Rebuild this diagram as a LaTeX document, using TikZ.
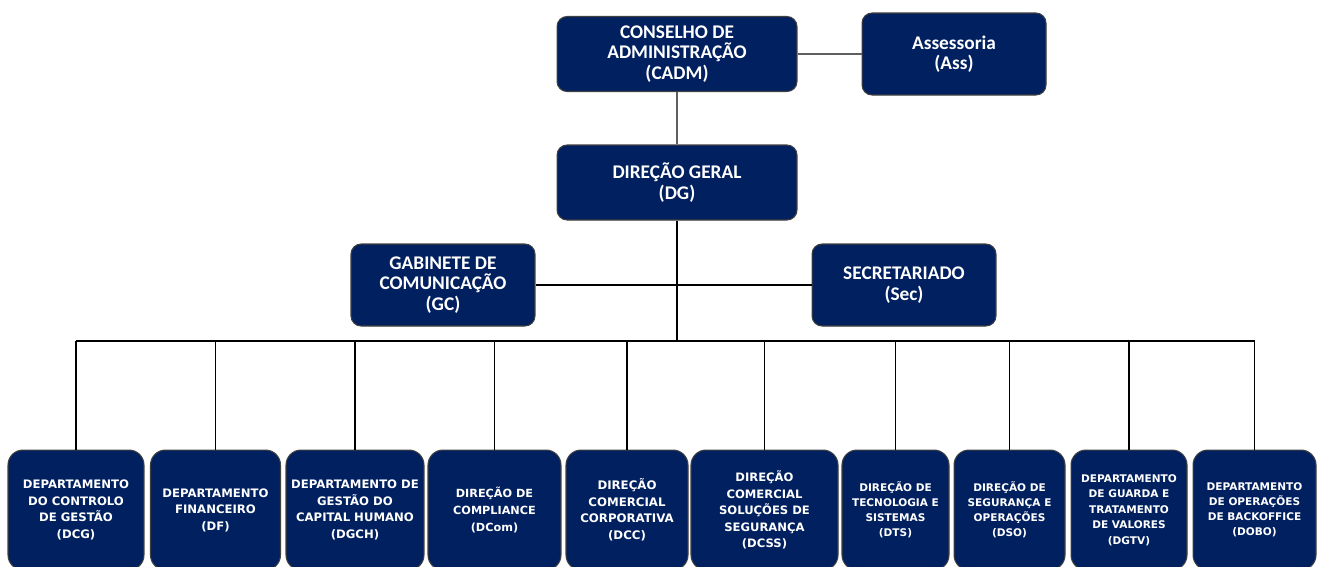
\documentclass[tikz,border=0pt]{standalone}
\usepackage{fontspec}
\setmainfont{Carlito}
\newfontfamily\deptfont{DejaVu Sans}
\usepackage{tikz}
\usetikzlibrary{calc}
\usepackage{xcolor}
\definecolor{navyblue}{RGB}{0,32,96}
\definecolor{rulegrey}{RGB}{95,95,95}

\tikzset{
  topbox/.style={draw=black!75, line width=0.6pt, fill=navyblue, text=white,
    rounded corners=0.2cm, align=center, inner sep=0pt,
    font=\bfseries\fontsize{11}{11.6}\selectfont},
  deptbox/.style 2 args={draw=black!75, line width=0.6pt, fill=navyblue, text=white,
    rounded corners=0.3cm, align=center, inner sep=0pt, minimum height=2.4cm,
    font=\deptfont\bfseries\fontsize{#1}{#2}\selectfont},
  link/.style={black, line width=0.6pt}
}

\begin{document}
\begin{tikzpicture}[x=0.02cm,y=-0.02cm]
    \useasboundingbox (0,0) rectangle (1317,566);
    \clip (0,0) rectangle (1317,566);

    % Board and direction
    \node[topbox,minimum width=4.8cm,minimum height=1.5cm] (cadm) at (677,54)
      {CONSELHO DE\\ADMINISTRAÇÃO\\(CADM)};
    \node[topbox,minimum width=3.68cm,minimum height=1.64cm] (ass) at (954,54)
      {Assessoria\\(Ass)};
    \node[topbox,minimum width=4.8cm,minimum height=1.5cm] (dg) at (677,182.5)
      {DIREÇÃO GERAL\\(DG)};

    % Staff units
    \node[topbox,minimum width=3.68cm,minimum height=1.64cm] (gc) at (443,285)
      {GABINETE DE\\COMUNICAÇÃO\\(GC)};
    \node[topbox,minimum width=3.68cm,minimum height=1.64cm] (sec) at (904,285)
      {SECRETARIADO\\(Sec)};

    % Departments and directions
    \node[deptbox={6.65}{9.4},minimum width=2.72cm] (dcg) at (76,510)
      {DEPARTAMENTO\\DO CONTROLO\\DE GESTÃO\\(DCG)};
    \node[deptbox={6.65}{9.4},minimum width=2.6cm] (df) at (215.5,510)
      {DEPARTAMENTO\\FINANCEIRO\\(DF)};
    \node[deptbox={6.65}{9.4},minimum width=2.76cm] (dgch) at (355,510)
      {DEPARTAMENTO DE\\GESTÃO DO\\CAPITAL HUMANO\\(DGCH)};
    \node[deptbox={6.4}{9.4},minimum width=2.66cm] (dcom) at (494.5,510)
      {DIREÇÃO DE\\COMPLIANCE\\(DCom)};
    \node[deptbox={6.7}{9.4},minimum width=2.44cm] (dcc) at (627,510)
      {DIREÇÃO\\COMERCIAL\\CORPORATIVA\\(DCC)};
    \node[deptbox={6.6}{9.4},minimum width=2.94cm] (dcss) at (764.5,510)
      {DIREÇÃO\\COMERCIAL\\SOLUÇÕES DE\\SEGURANÇA\\(DCSS)};
    \node[deptbox={6}{8.6},minimum width=2.14cm] (dts) at (895.5,510)
      {DIREÇÃO DE\\TECNOLOGIA E\\SISTEMAS\\(DTS)};
    \node[deptbox={6}{8.6},minimum width=2.22cm] (dso) at (1009.5,510)
      {DIREÇÃO DE\\SEGURANÇA E\\OPERAÇÕES\\(DSO)};
    \node[deptbox={6}{8.8},minimum width=2.32cm] (dgtv) at (1129,510)
      {DEPARTAMENTO\\DE GUARDA E\\TRATAMENTO\\DE VALORES\\(DGTV)};
    \node[deptbox={6}{8.6},minimum width=2.46cm] (dobo) at (1254.5,510)
      {DEPARTAMENTO\\DE OPERAÇÕES\\DE BACKOFFICE\\(DOBO)};

    % Connectors
    \draw[rulegrey,line width=0.6pt] (cadm) -- (ass);
    \draw[rulegrey,line width=0.6pt] (cadm) -- (dg);
    \coordinate (bus) at (677,341);
    \draw[link] (dg) -- (bus);
    \draw[link] (gc) -- (sec);
    \draw[link] (dcg.north |- bus) -- (dobo.north |- bus);
    \draw[link] (dcg.north |- bus) -- (dcg.north);
    \draw[link] (df.north |- bus) -- (df.north);
    \draw[link] (dgch.north |- bus) -- (dgch.north);
    \draw[link] (dcom.north |- bus) -- (dcom.north);
    \draw[link] (dcc.north |- bus) -- (dcc.north);
    \draw[link] (dcss.north |- bus) -- (dcss.north);
    \draw[link] (dts.north |- bus) -- (dts.north);
    \draw[link] (dso.north |- bus) -- (dso.north);
    \draw[link] (dgtv.north |- bus) -- (dgtv.north);
    \draw[link] (dobo.north |- bus) -- (dobo.north);
  \end{tikzpicture}
\end{document}
